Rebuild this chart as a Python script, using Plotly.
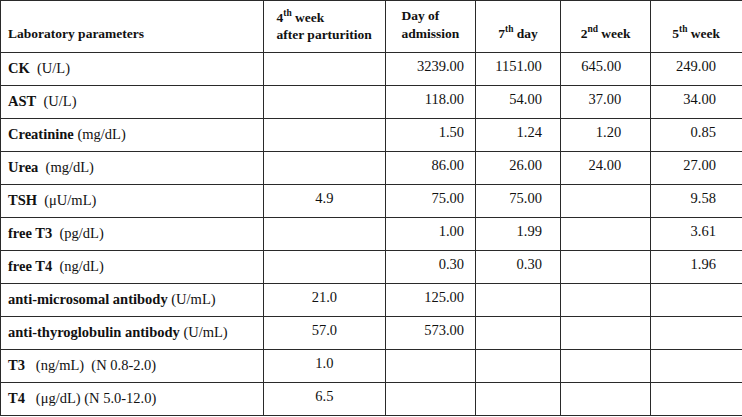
import plotly.graph_objects as go

# ---- data ----
param_names = ["CK", "AST", "Creatinine", "Urea", "TSH", "free T3", "free T4",
               "anti-microsomal antibody", "anti-thyroglobulin antibody", "T3", "T4"]
param_units = ["\u00a0\u00a0(U/L)", "\u00a0\u00a0(U/L)", " (mg/dL)", "\u00a0\u00a0(mg/dL)", "\u00a0\u00a0(\u03bcU/mL)",
               "\u00a0\u00a0(pg/dL)", "\u00a0\u00a0(ng/dL)", " (U/mL)", " (U/mL)",
               "\u00a0\u00a0\u00a0(ng/mL)\u00a0\u00a0(N 0.8-2.0)", "\u00a0\u00a0\u00a0(\u03bcg/dL) (N 5.0-12.0)"]
week4_postpartum = [None, None, None, None, 4.9, None, None, 21.0, 57.0, 1.0, 6.5]
day_admission = [3239.00, 118.00, 1.50, 86.00, 75.00, 1.00, 0.30, 125.00, 573.00, None, None]
day7 = [1151.00, 54.00, 1.24, 26.00, 75.00, 1.99, 0.30, None, None, None, None]
week2 = [645.00, 37.00, 1.20, 24.00, None, None, None, None, None, None, None]
week5 = [249.00, 34.00, 0.85, 27.00, 9.58, 3.61, 1.96, None, None, None, None]
header_labels = ["Laboratory parameters", "4<sup>th</sup> week<br>after parturition",
                 "Day of<br>admission", "7<sup>th</sup> day", "2<sup>nd</sup> week", "5<sup>th</sup> week"]

NB = "\u00a0"

def fmt(vals, dec, pad):
    return ["" if v is None else f"{v:.{dec}f}" + NB * pad for v in vals]

def head(h):
    # single-line headers get a blank first line so they sit lower in the tall header row
    return f"<b>{h}</b>" if "<br>" in h else f"{NB}<br><b>{h}</b>"

col0 = [f"<b>{n}</b>{u}" for n, u in zip(param_names, param_units)]
cols = [col0,
        fmt(week4_postpartum, 1, 0),
        fmt(day_admission, 2, 1),
        fmt(day7, 2, 3),
        fmt(week2, 2, 6),
        fmt(week5, 2, 5)]

FONT = "Liberation Serif"
LINE = "#2a2a2a"

fig = go.Figure(go.Table(
    domain=dict(x=[0, 1], y=[0, 1]),
    columnwidth=[263, 122, 90, 85, 90, 91],
    header=dict(values=[head(h) for h in header_labels],
                align=["left", "center", "center", "center", "center", "center"],
                height=52,
                line=dict(color=LINE, width=1),
                fill=dict(color="white"),
                font=dict(family=FONT, size=13.5, color="#111")),
    cells=dict(values=cols,
               align=["left", "center", "right", "right", "right", "right"],
               height=33,
               line=dict(color=LINE, width=1),
               fill=dict(color="white"),
               font=dict(family=FONT, size=14.5, color="#111")),
))
fig.update_layout(width=742, height=417, margin=dict(l=0, r=0, t=0, b=0),
                  paper_bgcolor="white")
fig.write_html("out.html", config={"displayModeBar": False},
               post_script="document.body.style.margin='0';document.body.style.padding='0';")
